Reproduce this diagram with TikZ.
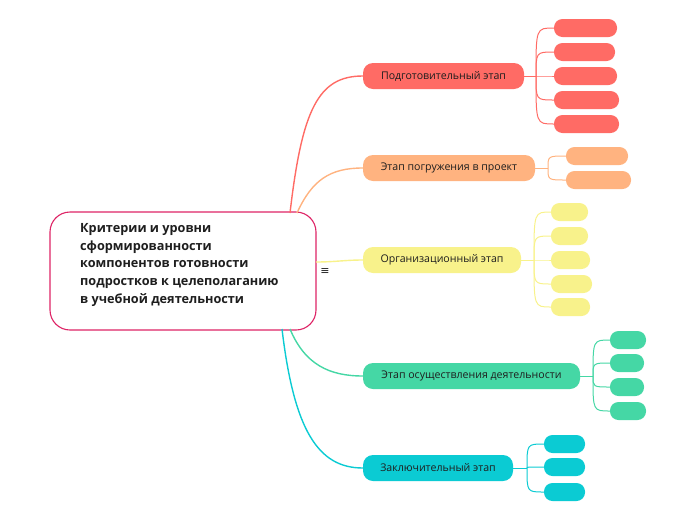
\documentclass[tikz,border=0pt]{standalone}
\usepackage{fontspec}
\setmainfont{Open Sans}
\newfontfamily\symfont{DejaVu Sans}
\definecolor{cred}{HTML}{FF6B65}
\definecolor{cpeach}{HTML}{FFB380}
\definecolor{cyel}{HTML}{F8F28B}
\definecolor{cgreen}{HTML}{45D7A5}
\definecolor{ccyan}{HTML}{0BCBD3}
\definecolor{croot}{HTML}{DE2466}
\definecolor{ctext}{HTML}{1E1E1E}
\begin{document}
\begin{tikzpicture}[x=1pt,y=-1pt,
  rootbox/.style={draw=croot,line width=1.1pt,fill=white,rounded corners=20pt,minimum width=266pt,minimum height=118pt,inner sep=0pt},
  stagebox/.style={fill=#1,rounded corners=10pt,minimum height=26pt,inner sep=0pt,text=ctext,font=\fontsize{10.6}{12}\selectfont},
  leafbox/.style={fill=#1,rounded corners=8.5pt,minimum height=18pt,inner sep=0pt},
  link/.style={draw=#1,line width=1.4pt},
  sublink/.style={draw=#1,line width=1pt}]
\useasboundingbox (0,0) rectangle (697,520);
% root
\node[rootbox] (root) at (183,271) {};
\node[anchor=north west,align=left,text=ctext,font=\fontsize{12.7}{17.8}\selectfont\bfseries,inner sep=0pt] (roottext) at (80,223) {Критерии и уровни\\сформированности\\компонентов готовности\\подростков к целеполаганию\\в учебной деятельности};
\node[font=\symfont\fontsize{11}{12}\selectfont,text=ctext] (menu) at (325,272) {≡};
% stages
\node[stagebox=cred,minimum width=161pt] (s1) at (443.5,76) {Подготовительный этап};
\node[stagebox=cpeach,minimum width=172pt] (s2) at (449,168) {Этап погружения в проект};
\node[stagebox=cyel,minimum width=158pt] (s3) at (442,260) {Организационный этап};
\node[stagebox=cgreen,minimum width=217pt] (s4) at (471.5,376) {Этап осуществления деятельности};
\node[stagebox=ccyan,minimum width=150pt] (s5) at (438,468) {Заключительный этап};
% root links
\coordinate (r1) at (290,213);
\coordinate (r2) at (297,213);
\coordinate (r3) at (316,262);
\coordinate (r4) at (290,329);
\coordinate (r5) at (282,329);
\draw[link=cred] (r1) .. controls (302,110) and (318,76) .. (s1.west);
\draw[link=cpeach] (r2) .. controls (312,180) and (330,168) .. (s2.west);
\draw[link=cyel] (r3) .. controls (335,262) and (345,260) .. (s3.west);
\draw[link=cgreen] (r4) .. controls (305,365) and (330,376) .. (s4.west);
\draw[link=ccyan] (r5) .. controls (294,430) and (318,468) .. (s5.west);
% leaves red
\node[leafbox=cred,minimum width=63pt] (a1) at (585.5,28) {};
\node[leafbox=cred,minimum width=61pt] (a2) at (584.5,52) {};
\node[leafbox=cred,minimum width=63pt] (a3) at (585.5,76) {};
\node[leafbox=cred,minimum width=65pt] (a4) at (586.5,100) {};
\node[leafbox=cred,minimum width=65pt] (a5) at (586.5,124) {};
\coordinate (ja) at (536,76);
\draw[sublink=cred] (s1.east) -- (ja);
\foreach \n in {a1,a2,a3,a4,a5}{\draw[sublink=cred] (ja) .. controls (ja|-\n.west) .. (\n.west);}
% leaves peach
\node[leafbox=cpeach,minimum width=62pt] (b1) at (597,156) {};
\node[leafbox=cpeach,minimum width=65pt] (b2) at (598.5,180) {};
\coordinate (jb) at (548,168);
\draw[sublink=cpeach] (s2.east) -- (jb);
\foreach \n in {b1,b2}{\draw[sublink=cpeach] (jb) .. controls (jb|-\n.west) .. (\n.west);}
% leaves yellow
\node[leafbox=cyel,minimum width=37pt] (c1) at (569.5,212) {};
\node[leafbox=cyel,minimum width=37pt] (c2) at (569.5,236) {};
\node[leafbox=cyel,minimum width=39pt] (c3) at (570.5,260) {};
\node[leafbox=cyel,minimum width=41pt] (c4) at (571.5,284) {};
\node[leafbox=cyel,minimum width=39pt] (c5) at (570.5,307) {};
\coordinate (jc) at (534,260);
\draw[sublink=cyel] (s3.east) -- (jc);
\foreach \n in {c1,c2,c3,c4,c5}{\draw[sublink=cyel] (jc) .. controls (jc|-\n.west) .. (\n.west);}
% leaves green
\node[leafbox=cgreen,minimum width=36pt] (d1) at (628,340) {};
\node[leafbox=cgreen,minimum width=34pt] (d2) at (627,363) {};
\node[leafbox=cgreen,minimum width=34pt] (d3) at (627,387) {};
\node[leafbox=cgreen,minimum width=36pt] (d4) at (628,411) {};
\coordinate (jd) at (593,376);
\draw[sublink=cgreen] (s4.east) -- (jd);
\foreach \n in {d1,d2,d3,d4}{\draw[sublink=cgreen] (jd) .. controls (jd|-\n.west) .. (\n.west);}
% leaves cyan
\node[leafbox=ccyan,minimum width=41pt] (e1) at (564.5,444) {};
\node[leafbox=ccyan,minimum width=41pt] (e2) at (564.5,467) {};
\node[leafbox=ccyan,minimum width=41pt] (e3) at (564.5,492) {};
\coordinate (je) at (527,468);
\draw[sublink=ccyan] (s5.east) -- (je);
\foreach \n in {e1,e2,e3}{\draw[sublink=ccyan] (je) .. controls (je|-\n.west) .. (\n.west);}
\end{tikzpicture}
\end{document}
